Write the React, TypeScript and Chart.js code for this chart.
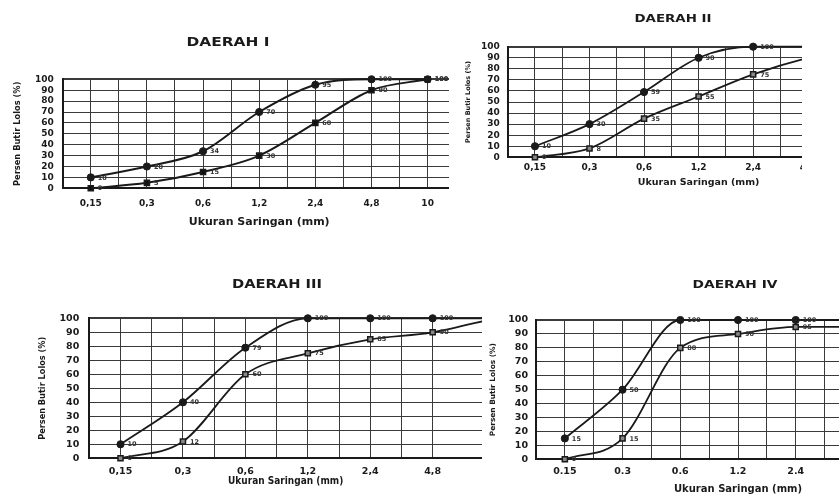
import React, { useEffect, useRef } from 'react';
import { Chart, registerables } from 'chart.js';

Chart.register(...registerables);

// ---- data ----
const sieveLabelsComma = ['0,15', '0,3', '0,6', '1,2', '2,4', '4,8', '10'];
const sieveLabelsDot = ['0.15', '0.3', '0.6', '1.2', '2.4', '4.8', '10'];

const zone1Upper = [10, 20, 34, 70, 95, 100, 100];
const zone1Lower = [0, 5, 15, 30, 60, 90, 100];
const zone2Upper = [10, 30, 59, 90, 100, 100, 100];
const zone2Lower = [0, 8, 35, 55, 75, 90, 100];
const zone3Upper = [10, 40, 79, 100, 100, 100, 100];
const zone3Lower = [0, 12, 60, 75, 85, 90, 100];
const zone4Upper = [15, 50, 100, 100, 100, 100, 100];
const zone4Lower = [0, 15, 80, 90, 95, 95, 100];

const yTicks = [0, 10, 20, 30, 40, 50, 60, 70, 80, 90, 100];
const xAxisTitle = 'Ukuran Saringan (mm)';
const yAxisTitle = 'Persen Butir Lolos (%)';

// ---- layout (page pixels) ----
type Panel = {
  title: string;
  labels: string[];
  upper: number[];
  lower: number[];
  crop: { x: number; y: number; w: number; h: number };
  canvas: { x: number; y: number; w: number; h: number };
  plotL: number;
  plotT: number;
  plotB: number;
  xMax: number;
  xPad: number;
  yGap: number;
  tickSize: number;
  xTitleFont: { size: number; family: string; pb: number };
  yTitleFont: { size: number; pt: number };
  titlePos: { x: number; y: number; size: number; width: number };
  lineWidth: number;
  lowerFill: string;
};

const panels: Panel[] = [
  {
    title: 'DAERAH I', labels: sieveLabelsComma, upper: zone1Upper, lower: zone1Lower,
    crop: { x: 0, y: 0, w: 449, h: 240 },
    canvas: { x: 4, y: 20, w: 462, h: 211 },
    plotL: 62.7, plotT: 79.3, plotB: 188.3, xMax: 6.5, xPad: 10.3, yGap: 9, tickSize: 9,
    xTitleFont: { size: 11, family: '"DejaVu Sans"', pb: 2.4 },
    yTitleFont: { size: 8.3, pt: 9 },
    titlePos: { x: 228, y: 43, size: 11.5, width: 83 },
    lineWidth: 2, lowerFill: '#111',
  },
  {
    title: 'DAERAH II', labels: sieveLabelsComma, upper: zone2Upper, lower: zone2Lower,
    crop: { x: 455, y: 0, w: 347, h: 200 },
    canvas: { x: 458, y: 10, w: 437, h: 181 },
    plotL: 507.7, plotT: 46.7, plotB: 157.3, xMax: 6.5, xPad: 5.3, yGap: 8, tickSize: 9,
    xTitleFont: { size: 9.5, family: '"DejaVu Sans"', pb: 2.3 },
    yTitleFont: { size: 6.5, pt: 6.1 },
    titlePos: { x: 673, y: 19, size: 10, width: 77 },
    lineWidth: 1.8, lowerFill: '#888',
  },
  {
    title: 'DAERAH III', labels: sieveLabelsComma, upper: zone3Upper, lower: zone3Lower,
    crop: { x: 20, y: 262, w: 462, h: 232 },
    canvas: { x: 30, y: 270, w: 460, h: 220 },
    plotL: 89.3, plotT: 318.3, plotB: 458.3, xMax: 5.79, xPad: 8, yGap: 10, tickSize: 9.5,
    xTitleFont: { size: 10, family: '"Liberation Sans Narrow", "DejaVu Sans Condensed", "Liberation Sans"', pb: 2.2 },
    yTitleFont: { size: 8.2, pt: 8.4 },
    titlePos: { x: 277, y: 285, size: 11.5, width: 90 },
    lineWidth: 1.8, lowerFill: '#888',
  },
  {
    title: 'DAERAH IV', labels: sieveLabelsDot, upper: zone4Upper, lower: zone4Lower,
    crop: { x: 482, y: 262, w: 357, h: 232 },
    canvas: { x: 486, y: 270, w: 461, h: 227 },
    plotL: 536, plotT: 320, plotB: 459.3, xMax: 6.5, xPad: 7, yGap: 8, tickSize: 9.5,
    xTitleFont: { size: 10, family: '"DejaVu Sans"', pb: 2 },
    yTitleFont: { size: 7.4, pt: 2.6 },
    titlePos: { x: 735, y: 285, size: 11, width: 85 },
    lineWidth: 1.8, lowerFill: '#888',
  },
];

const INK = '#1a1a1a';
const GRID = '#3a3a3a';

const panelTitlePlugin = {
  id: 'panelTitle',
  afterDraw(chart: any, _args: any, opts: any) {
    const ctx = chart.ctx;
    ctx.save();
    ctx.font = `bold ${opts.size}px "DejaVu Sans"`;
    const natural = ctx.measureText(opts.text).width || 1;
    const sx = opts.width / natural;
    ctx.translate(opts.x, opts.y);
    ctx.scale(sx, 1);
    ctx.fillStyle = INK;
    ctx.textAlign = 'center';
    ctx.textBaseline = 'middle';
    ctx.fillText(opts.text, 0, 0);
    ctx.restore();
  },
};

const valueLabelPlugin = {
  id: 'valueLabels',
  afterDatasetsDraw(chart: any, _args: any, opts: any) {
    const ctx = chart.ctx;
    ctx.save();
    ctx.font = `bold ${opts.size}px "DejaVu Sans"`;
    ctx.fillStyle = '#333';
    ctx.textAlign = 'left';
    ctx.textBaseline = 'middle';
    chart.data.datasets.forEach((ds: any, di: number) => {
      const meta = chart.getDatasetMeta(di);
      meta.data.forEach((pt: any, i: number) => {
        if (pt.x > chart.chartArea.right + 2) return;
        ctx.fillText(String(ds.data[i].y), pt.x + opts.dx, pt.y + 0.5);
      });
    });
    ctx.restore();
  },
};

function GradingChart({ p }: { p: Panel }) {
  const ref = useRef<HTMLCanvasElement | null>(null);
  useEffect(() => {
    const cv = ref.current;
    if (!cv) return;
    const toPoints = (vals: number[]) => vals.map((v, i) => ({ x: i, y: v }));
    const tickFont = { family: '"DejaVu Sans"', size: p.tickSize, weight: 'bold' as const };
    const chart = new Chart(cv, {
      type: 'line',
      data: {
        datasets: [
          {
            label: 'Batas atas',
            data: toPoints(p.upper),
            borderColor: INK,
            backgroundColor: INK,
            borderWidth: p.lineWidth,
            pointStyle: 'circle',
            pointRadius: 3.6,
            pointBackgroundColor: INK,
            pointBorderColor: INK,
            pointBorderWidth: 1,
            cubicInterpolationMode: 'monotone',
            clip: false as any,
          },
          {
            label: 'Batas bawah',
            data: toPoints(p.lower),
            borderColor: INK,
            backgroundColor: p.lowerFill,
            borderWidth: p.lineWidth,
            pointStyle: 'rect',
            pointRadius: 3.6,
            pointBackgroundColor: p.lowerFill,
            pointBorderColor: INK,
            pointBorderWidth: 1.5,
            cubicInterpolationMode: 'monotone',
            clip: false as any,
          },
        ],
      },
      options: {
        animation: false,
        responsive: false,
        events: [],
        layout: { padding: { top: p.plotT - p.canvas.y, left: 0, right: 0, bottom: 0 } },
        plugins: {
          legend: { display: false },
          tooltip: { enabled: false },
          title: { display: false },
          panelTitle: {
            text: p.title,
            x: p.titlePos.x - p.canvas.x,
            y: p.titlePos.y - p.canvas.y,
            size: p.titlePos.size,
            width: p.titlePos.width,
          },
          valueLabels: { size: 6.5, dx: 7 },
        } as any,
        scales: {
          x: {
            type: 'linear',
            min: -0.5,
            max: p.xMax,
            afterFit: (s: any) => { s.height = p.canvas.y + p.canvas.h - p.plotB; },
            ticks: {
              stepSize: 0.5,
              autoSkip: false,
              maxRotation: 0,
              minRotation: 0,
              padding: p.xPad,
              font: tickFont,
              color: INK,
              callback: (v: any) => {
                const n = Number(v);
                const r = Math.round(n);
                return Math.abs(n - r) < 1e-6 && r >= 0 && r < p.labels.length ? p.labels[r] : '';
              },
            },
            grid: { color: GRID, lineWidth: 1, drawTicks: false },
            border: { display: true, color: INK, width: 2 },
            title: {
              display: true,
              text: xAxisTitle,
              color: INK,
              font: { family: p.xTitleFont.family, size: p.xTitleFont.size, weight: 'bold' },
              padding: { top: 0, bottom: p.xTitleFont.pb },
            },
          },
          y: {
            type: 'linear',
            min: 0,
            max: 100,
            afterFit: (s: any) => { s.width = p.plotL - p.canvas.x; },
            afterBuildTicks: (s: any) => { s.ticks = yTicks.map((v) => ({ value: v })); },
            ticks: {
              stepSize: 10,
              autoSkip: false,
              padding: p.yGap,
              font: tickFont,
              color: INK,
            },
            grid: {
              color: GRID,
              lineWidth: (c: any) => (c.tick && c.tick.value === 100 ? 2 : 1),
              drawTicks: false,
            },
            border: { display: true, color: INK, width: 2 },
            title: {
              display: true,
              text: yAxisTitle,
              color: INK,
              font: { family: '"DejaVu Sans"', size: p.yTitleFont.size, weight: 'bold' },
              padding: { top: p.yTitleFont.pt, bottom: 0 },
            },
          },
        },
      },
      plugins: [panelTitlePlugin, valueLabelPlugin],
    });
    return () => chart.destroy();
  }, [p]);

  return (
    <div
      style={{
        position: 'absolute',
        left: p.crop.x,
        top: p.crop.y,
        width: p.crop.w,
        height: p.crop.h,
        overflow: 'hidden',
      }}
    >
      <canvas
        ref={ref}
        width={p.canvas.w}
        height={p.canvas.h}
        style={{
          position: 'absolute',
          left: p.canvas.x - p.crop.x,
          top: p.canvas.y - p.crop.y,
          width: p.canvas.w,
          height: p.canvas.h,
        }}
      />
    </div>
  );
}

export default function App() {
  return (
    <div
      style={{
        position: 'absolute',
        left: 0,
        top: 0,
        width: 839,
        height: 494,
        overflow: 'hidden',
        background: '#fff',
      }}
    >
      {panels.map((p) => (
        <GradingChart key={p.title} p={p} />
      ))}
    </div>
  );
}
